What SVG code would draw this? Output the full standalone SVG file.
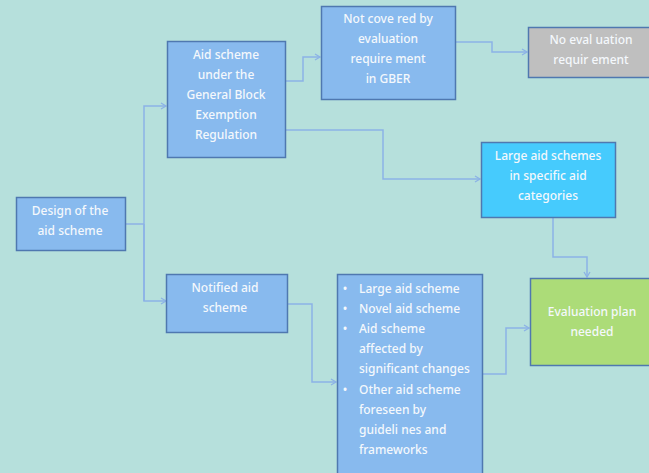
<svg xmlns="http://www.w3.org/2000/svg" width="649" height="473" viewBox="0 0 649 473">
<defs>
<marker id="arr" markerWidth="8" markerHeight="8" refX="6" refY="4" orient="auto" markerUnits="userSpaceOnUse">
<path d="M1,1 L6,4 L1,7" fill="none" stroke="#8cb2e6" stroke-width="1.3"/>
</marker>
</defs>
<style>
.bg{fill:#b6e0dc}
.box{stroke:#4f78b0;stroke-width:1.5}
.blue{fill:#88baee}
.gray{fill:#bfbfbf}
.cyan{fill:#46cbfd}
.green{fill:#acdc78}
.t{font-family:"Noto Sans","Liberation Sans",sans-serif;font-size:12px;fill:#f4f8fc;font-weight:500;text-anchor:middle}
.l{text-anchor:start}
.c{fill:none;stroke:#8cb2e6;stroke-width:1.5}
</style>
<rect class="bg" x="0" y="0" width="649" height="473"/>
<g id="connectors">
<path class="c" d="M125,224 H144"/>
<path class="c" d="M144,301 V106 H166" marker-end="url(#arr)"/>
<path class="c" d="M144,224 V301 H166" marker-end="url(#arr)"/>
<path class="c" d="M285,81 H303 V57 H320" marker-end="url(#arr)"/>
<path class="c" d="M455,42 H492 V52 H527" marker-end="url(#arr)"/>
<path class="c" d="M285,130 H383 V179 H480" marker-end="url(#arr)"/>
<path class="c" d="M553,217 V257 H587 V277" marker-end="url(#arr)"/>
<path class="c" d="M287,304 H312 V382 H336" marker-end="url(#arr)"/>
<path class="c" d="M482,374 H506 V328 H529" marker-end="url(#arr)"/>
</g>
<g id="design">
<rect class="box blue" x="16.5" y="197.5" width="109" height="53"/>
<text class="t" x="70" y="215">Design of the</text>
<text class="t" x="70" y="235">aid scheme</text>
</g>
<g id="gber">
<rect class="box blue" x="167.5" y="41.5" width="118" height="116"/>
<text class="t" x="226" y="59">Aid scheme</text>
<text class="t" x="226" y="79">under the</text>
<text class="t" x="226" y="99">General Block</text>
<text class="t" x="226" y="119">Exemption</text>
<text class="t" x="226" y="139">Regulation</text>
</g>
<g id="notcovered">
<rect class="box blue" x="321.5" y="6.5" width="134" height="93"/>
<text class="t" x="388" y="23">Not cove red by</text>
<text class="t" x="388" y="43">evaluation</text>
<text class="t" x="388" y="63">require ment</text>
<text class="t" x="388" y="83">in GBER</text>
</g>
<g id="noeval">
<rect class="box gray" x="528.5" y="27.5" width="130" height="50"/>
<text class="t" x="591" y="44">No eval uation</text>
<text class="t" x="591" y="64">requir ement</text>
</g>
<g id="largecat">
<rect class="box cyan" x="481.5" y="142.5" width="134" height="75"/>
<text class="t" x="548" y="160">Large aid schemes</text>
<text class="t" x="548" y="180">in specific aid</text>
<text class="t" x="548" y="200">categories</text>
</g>
<g id="notified">
<rect class="box blue" x="166.5" y="274.5" width="121" height="58"/>
<text class="t" x="225" y="292">Notified aid</text>
<text class="t" x="225" y="312">scheme</text>
</g>
<g id="list">
<rect class="box blue" x="337.5" y="274.5" width="145" height="210"/>
<g class="t">
<text class="t" x="345" y="293">•</text>
<text class="t" x="345" y="313">•</text>
<text class="t" x="345" y="333">•</text>
<text class="t" x="345" y="394">•</text>
<text class="t l" x="359" y="293">Large aid scheme</text>
<text class="t l" x="359" y="313">Novel aid scheme</text>
<text class="t l" x="359" y="333">Aid scheme</text>
<text class="t l" x="359" y="353">affected by</text>
<text class="t l" x="359" y="373">significant changes</text>
<text class="t l" x="359" y="394">Other aid scheme</text>
<text class="t l" x="359" y="414">foreseen by</text>
<text class="t l" x="359" y="434">guideli nes and</text>
<text class="t l" x="359" y="454">frameworks</text>
</g>
</g>
<g id="evalplan">
<rect class="box green" x="530.5" y="278.5" width="130" height="87"/>
<text class="t" x="592" y="316">Evaluation plan</text>
<text class="t" x="592" y="336">needed</text>
</g>
</svg>
